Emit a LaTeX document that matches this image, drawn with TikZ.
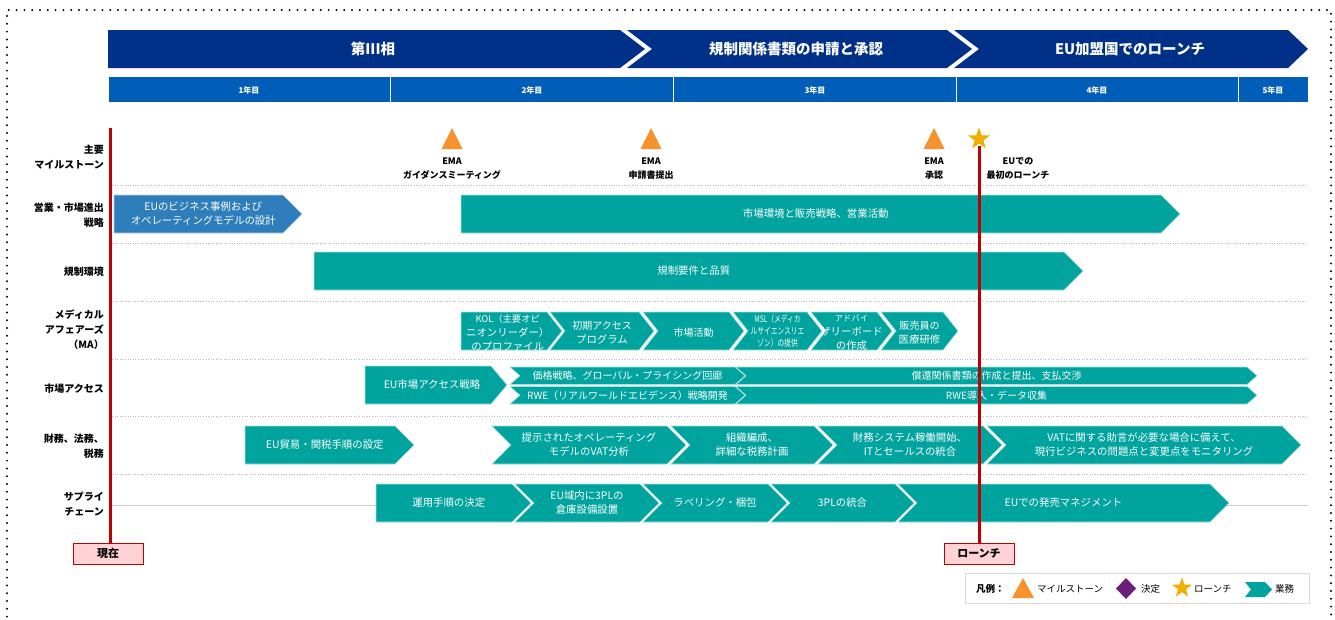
\documentclass[tikz,border=0pt]{standalone}
\usepackage{fontspec}
\setmainfont{Noto Sans CJK JP}
\usetikzlibrary{shapes.geometric}
\definecolor{navy}{HTML}{003087}
\definecolor{yearblue}{HTML}{005EB8}
\definecolor{tealc}{HTML}{00A39E}
\definecolor{bluec}{HTML}{2E7EBB}
\definecolor{redc}{HTML}{C00000}
\definecolor{pinkc}{HTML}{FFD3D6}
\definecolor{orangec}{HTML}{F7922F}
\definecolor{goldc}{HTML}{F0AE00}
\definecolor{purplec}{HTML}{6B1F7B}
\newcommand\chev[9]{%
  \pgfmathsetmacro\chB{#3-#6}%
  \pgfmathsetmacro\chM{(#4+#5)/2}%
  \pgfmathsetmacro\chN{#2+#7*#6}%
  \pgfmathsetmacro\chX{(#2+#3+(#7-1)*#6/2)/2}%
  \path[#8] (#2,#4) -- (\chB,#4) -- (#3,\chM) -- (\chB,#5) -- (#2,#5) -- (\chN,\chM) -- cycle;
  \node[chevtext] (#1) at (\chX,\chM) {#9};
}
\begin{document}
\begin{tikzpicture}[x=1pt,y=-1pt,
  tealfill/.style={fill=tealc, draw=tealc!35!white, line width=0.6pt},
  bluefill/.style={fill=bluec, draw=bluec!35!white, line width=0.6pt},
  chevtext/.style={text=white, align=center, inner sep=0pt, font=\fontsize{10.4}{14}\selectfont},
  phasetext/.style={text=white, font=\bfseries\fontsize{14.5}{16}\selectfont, inner sep=0pt},
  yeartext/.style={text=white, font=\bfseries\fontsize{8}{9}\selectfont, inner sep=0pt},
  rowlab/.style={anchor=east, align=right, inner sep=0pt, font=\bfseries\fontsize{10}{15}\selectfont},
  mslab/.style={align=center, inner sep=0pt, font=\bfseries\fontsize{9}{13.5}\selectfont},
  sepline/.style={draw=gray!55, dotted, line width=0.6pt},
  redline/.style={draw=redc, line width=3pt},
  markbox/.style={draw=red!75!black, fill=pinkc, line width=0.8pt, minimum width=70pt, minimum height=21pt, inner sep=0pt, font=\bfseries\fontsize{11}{12}\selectfont},
  legtext/.style={anchor=west, inner sep=0pt, font=\fontsize{9.5}{11}\selectfont}
]
\useasboundingbox (0,0) rectangle (1335,619);
\fill[white] (0,0) rectangle (1335,619);
% dotted frame
\draw[line width=2.2pt, line cap=round, dash pattern=on 0pt off 7.8pt] (7,640) -- (7,10) -- (1331,10) -- (1331,640);

% phase header
\fill[navy] (108,30) -- (620,30) -- (645,49) -- (620,68) -- (108,68) -- cycle;
\fill[navy] (627,30) -- (947,30) -- (972,49) -- (947,68) -- (627,68) -- (652,49) -- cycle;
\fill[navy] (954,30) -- (1288,30) -- (1308,49) -- (1288,68) -- (954,68) -- (979,49) -- cycle;
\node[phasetext] (ph1) at (373,49) {第III相};
\node[phasetext] (ph2) at (796,49) {規制関係書類の申請と承認};
\node[phasetext] (ph3) at (1130,49) {EU加盟国でのローンチ};

% year bar
\fill[yearblue] (109,77) rectangle (390,102);
\fill[yearblue] (391,77) rectangle (673,102);
\fill[yearblue] (674,77) rectangle (956,102);
\fill[yearblue] (957,77) rectangle (1238,102);
\fill[yearblue] (1239,77) rectangle (1308,102);
\node[yeartext] (y1) at (249,90) {1年目};
\node[yeartext] (y2) at (532,90) {2年目};
\node[yeartext] (y3) at (815,90) {3年目};
\node[yeartext] (y4) at (1097,90) {4年目};
\node[yeartext] (y5) at (1273,90) {5年目};

% row separators
\foreach \yy in {185,243,301,359,416,474} \draw[sepline] (112,\yy) -- (1308,\yy);
\draw[gray!40, line width=0.7pt] (112,505) -- (1308,505);

% row labels
\node[rowlab] (l1) at (104,157) {主要\\マイルストーン};
\node[rowlab] (l2) at (104,215) {営業・市場進出\\戦略};
\node[rowlab] (l3) at (104,272) {規制環境};
\node[rowlab] (l4) at (104,330) {メディカル\\アフェアーズ\\（MA）};
\node[rowlab] (l5) at (104,389) {市場アクセス};
\node[rowlab] (l6) at (104,446) {財務、法務、\\税務};
\node[rowlab] (l7) at (104,504) {サプライ\\チェーン};

% milestones
\fill[orangec] (441.5,149) -- (452,128) -- (462.5,149) -- cycle;
\fill[orangec] (640.5,149) -- (651,128) -- (661.5,149) -- cycle;
\fill[orangec] (923.5,149) -- (934,128) -- (944.5,149) -- cycle;
\node[mslab] (m1) at (452,168.5) {EMA\\ガイダンスミーティング};
\node[mslab] (m2) at (651,168.5) {EMA\\申請書提出};
\node[mslab] (m3) at (934,168.5) {EMA\\承認};
\node[mslab] (m4) at (1018,168.5) {EUでの\\最初のローンチ};

% row 2
\chev{r2a}{114}{302}{195}{233}{19}{0}{bluefill}{EUのビジネス事例および\\オペレーティングモデルの設計}
\chev{r2b}{461}{1180}{195}{233}{19}{0}{tealfill}{市場環境と販売戦略、営業活動}
% row 3
\chev{r3a}{314}{1083}{252}{290}{19}{0}{tealfill}{規制要件と品質}
% row MA
\begin{scope}[every node/.append style={yshift=-1.5pt}]
\chev{r4a}{461}{562}{312}{350}{15}{0}{tealfill}{\fontsize{9.3}{12.5}\selectfont KOL（主要オピ\\ニオンリーダー）\\のプロファイル}
\chev{r4b}{550}{654}{312}{350}{15}{1}{tealfill}{\fontsize{10}{13.5}\selectfont 初期アクセス\\プログラム}
\chev{r4c}{643}{744}{312}{350}{15}{1}{tealfill}{\fontsize{10}{13.5}\selectfont 市場活動}
\chev{r4d}{733}{822}{312}{350}{15}{1}{tealfill}{\scalebox{0.75}[1]{\fontsize{9}{12}\selectfont\begin{tabular}{@{}c@{}}MSL（メディカ\\ルサイエンスリエ\\ゾン）の提供\end{tabular}}}
\chev{r4e}{811}{892}{312}{350}{15}{1}{tealfill}{\fontsize{8.3}{12}\selectfont アドバイ\\ザリーボード\\の作成}
\chev{r4f}{881}{958}{312}{350}{15}{1}{tealfill}{\fontsize{10}{13.5}\selectfont 販売員の\\医療研修}
\end{scope}
% row market access
\chev{r5a}{365}{507}{366}{404}{16}{0}{tealfill}{EU市場アクセス戦略}
\chev{r5b}{510}{745}{367}{384.5}{10}{1}{tealfill}{\fontsize{10}{12}\selectfont 価格戦略、グローバル・プライシング回廊}
\chev{r5c}{736}{1257}{367}{384.5}{10}{1}{tealfill}{\fontsize{10}{12}\selectfont 償還関係書類の作成と提出、支払交渉}
\chev{r5d}{510}{745}{386.5}{404}{10}{1}{tealfill}{\fontsize{10}{12}\selectfont RWE（リアルワールドエビデンス）戦略開発}
\chev{r5e}{736}{1257}{386.5}{404}{10}{1}{tealfill}{\fontsize{10}{12}\selectfont RWE導入・データ収集}
% row finance
\chev{r6a}{245}{414}{426}{464}{19}{0}{tealfill}{EU貿易・関税手順の設定}
\chev{r6b}{492}{686}{426}{464}{19}{1}{tealfill}{提示されたオペレーティング\\モデルのVAT分析}
\chev{r6c}{671}{833}{426}{464}{19}{1}{tealfill}{組織編成、\\詳細な税務計画}
\chev{r6d}{818}{1002}{426}{464}{19}{1}{tealfill}{財務システム稼働開始、\\ITとセールスの統合}
\chev{r6e}{987}{1301}{426}{464}{19}{1}{tealfill}{VATに関する助言が必要な場合に備えて、\\現行ビジネスの問題点と変更点をモニタリング}
% row supply chain
\chev{r7a}{376}{531}{484}{522}{19}{0}{tealfill}{運用手順の決定}
\chev{r7b}{515}{659}{484}{522}{19}{1}{tealfill}{EU域内に3PLの\\倉庫設備設置}
\chev{r7c}{643}{787}{484}{522}{19}{1}{tealfill}{ラベリング・梱包}
\chev{r7d}{771}{914}{484}{522}{19}{1}{tealfill}{3PLの統合}
\chev{r7e}{898}{1229}{484}{522}{19}{1}{tealfill}{EUでの発売マネジメント}

% now / launch lines
\coordinate (nowtop) at (110,128);
\coordinate (launchtop) at (979,146);
\node[markbox] (nowbox) at (108,553.5) {現在};
\node[markbox] (launchbox) at (979,553.5) {ローンチ};
\draw[redline] (nowtop) -- (nowtop |- nowbox.north);
\draw[redline] (launchtop) -- (launchbox.north);
\node[star, star points=5, star point ratio=2.5, fill=goldc, minimum size=23pt, inner sep=0pt] (launchstar) at (979,139) {};

% legend
\node[draw=gray!30, line width=0.8pt, minimum width=344pt, minimum height=30pt, inner sep=0pt] (legend) at (1137,588) {};
\node[legtext, font=\bfseries\fontsize{9.5}{11}\selectfont] (lg0) at (976,589) {凡例：};
\fill[orangec] (1012,598) -- (1023,578) -- (1034,598) -- cycle;
\node[legtext] (lg1) at (1037,589) {マイルストーン};
\fill[purplec] (1126,578) -- (1136,588.5) -- (1126,599) -- (1116,588.5) -- cycle;
\node[legtext] (lg2) at (1141,589) {決定};
\node[star, star points=5, star point ratio=2.5, fill=goldc, minimum size=21pt, inner sep=0pt] (lgstar) at (1182,588) {};
\node[legtext] (lg3) at (1194,589) {ローンチ};
\fill[tealc] (1245,582) -- (1265,582) -- (1272,589.5) -- (1265,597) -- (1245,597) -- (1251,589.5) -- cycle;
\node[legtext] (lg4) at (1275,589) {業務};
\end{tikzpicture}
\end{document}
